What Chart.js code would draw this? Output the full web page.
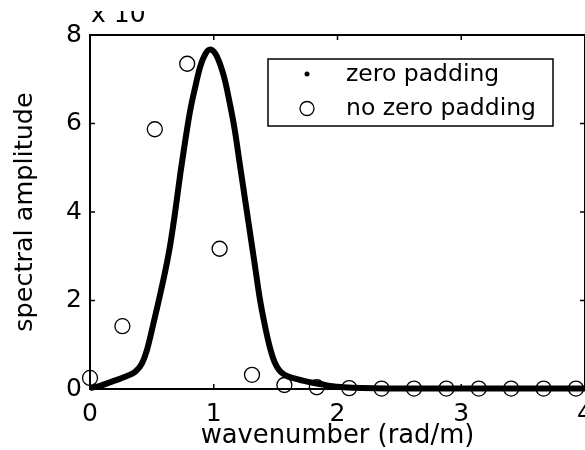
<!DOCTYPE html>
<html>
<head>
<meta charset="utf-8">
<script src="https://cdn.jsdelivr.net/npm/chart.js@4/dist/chart.umd.min.js"></script>
<style>
  html, body { margin: 0; padding: 0; background: #fff; }
  canvas { display: block; }
</style>
</head>
<body>
<canvas id="c" width="585" height="450"></canvas>
<script>
// ---- data ----
const zeroPadX = [0, 0.08, 0.16, 0.24, 0.32, 0.37, 0.42, 0.46, 0.50, 0.55, 0.61, 0.65, 0.69, 0.73, 0.77, 0.81, 0.85, 0.89, 0.93, 0.97, 1.01, 1.05, 1.09, 1.13, 1.17, 1.21, 1.25, 1.29, 1.33, 1.37, 1.41, 1.45, 1.49, 1.53, 1.58, 1.65, 1.72, 1.80, 1.88, 1.96, 2.05, 2.2, 2.4, 2.6, 2.8, 3.0, 3.2, 3.4, 3.6, 3.8, 4.0];
const zeroPadY = [0.02, 0.07, 0.15, 0.23, 0.32, 0.40, 0.58, 0.88, 1.33, 1.93, 2.69, 3.29, 4.04, 4.87, 5.62, 6.30, 6.82, 7.28, 7.56, 7.67, 7.59, 7.35, 6.98, 6.45, 5.85, 5.09, 4.34, 3.59, 2.84, 2.08, 1.48, 0.98, 0.62, 0.42, 0.31, 0.24, 0.19, 0.14, 0.10, 0.06, 0.04, 0.02, 0.01, 0.01, 0.01, 0.01, 0.01, 0.01, 0.01, 0.01, 0.01];
const noPadX = [0, 0.2618, 0.5236, 0.7854, 1.0472, 1.309, 1.5708, 1.8326, 2.0944, 2.3562, 2.618, 2.8798, 3.1416, 3.4034, 3.6652, 3.927];
const noPadY = [0.25, 1.42, 5.87, 7.35, 3.17, 0.32, 0.09, 0.04, 0.02, 0.01, 0.01, 0.01, 0.01, 0.01, 0.01, 0.01];
const seriesLabels = ['zero padding', 'no zero padding'];
const xTicks = [0, 1, 2, 3, 4];
const yTicks = [0, 2, 4, 6, 8];
const xTitle = 'wavenumber (rad/m)';
const yTitle = 'spectral amplitude';
const exponentLabel = 'x 10';

const FONT = 'DejaVu Sans';

const toPts = (xs, ys) => xs.map((x, i) => ({ x: x, y: ys[i] }));

const framePlugin = {
  id: 'frame',
  afterDraw(chart) {
    const { ctx, chartArea: a, scales } = chart;
    ctx.save();
    ctx.strokeStyle = '#000';
    // top and right spines
    ctx.lineWidth = 2;
    ctx.beginPath();
    ctx.moveTo(a.left, a.top); ctx.lineTo(a.right, a.top);
    ctx.moveTo(a.right, a.top); ctx.lineTo(a.right, a.bottom);
    ctx.stroke();
    // inward ticks on all four sides
    ctx.lineWidth = 1.5;
    ctx.beginPath();
    xTicks.forEach(v => {
      const p = scales.x.getPixelForValue(v);
      ctx.moveTo(p, a.bottom); ctx.lineTo(p, a.bottom - 5);
      ctx.moveTo(p, a.top); ctx.lineTo(p, a.top + 5);
    });
    yTicks.forEach(v => {
      const p = scales.y.getPixelForValue(v);
      ctx.moveTo(a.left, p); ctx.lineTo(a.left + 5, p);
      ctx.moveTo(a.right, p); ctx.lineTo(a.right - 5, p);
    });
    ctx.stroke();

    // exponent label, clipped at the top like the reference
    ctx.save();
    ctx.beginPath();
    ctx.rect(0, 11, chart.width, 40);
    ctx.clip();
    ctx.fillStyle = '#000';
    ctx.font = '25px "' + FONT + '"';
    ctx.textBaseline = 'alphabetic';
    ctx.textAlign = 'left';
    ctx.fillText(exponentLabel, 91, 22);
    ctx.restore();

    // legend box
    const bx = 268, by = 59, bw = 285, bh = 67;
    ctx.fillStyle = '#fff';
    ctx.fillRect(bx, by, bw, bh);
    ctx.lineWidth = 1.5;
    ctx.strokeRect(bx, by, bw, bh);
    ctx.fillStyle = '#000';
    ctx.font = '23.5px "' + FONT + '"';
    ctx.textBaseline = 'middle';
    ctx.textAlign = 'left';
    const ds = chart.data.datasets;
    ctx.beginPath();
    ctx.arc(307, 74, 2.5, 0, Math.PI * 2);
    ctx.fill();
    ctx.fillText(ds[0].label, 346, 75);
    ctx.lineWidth = 1.3;
    ctx.beginPath();
    ctx.arc(307, 108.5, 7, 0, Math.PI * 2);
    ctx.stroke();
    ctx.fillText(ds[1].label, 346, 109);
    ctx.restore();
  }
};

new Chart(document.getElementById('c'), {
  type: 'scatter',
  data: {
    datasets: [
      {
        label: seriesLabels[0],
        data: toPts(zeroPadX, zeroPadY),
        showLine: true,
        borderColor: '#000',
        backgroundColor: '#000',
        borderWidth: 6,
        pointRadius: 0,
        cubicInterpolationMode: 'monotone',
        clip: 8,
        order: 2
      },
      {
        label: seriesLabels[1],
        data: toPts(noPadX, noPadY),
        showLine: false,
        pointStyle: 'circle',
        pointRadius: 7.5,
        pointBorderWidth: 1.3,
        pointBorderColor: '#000',
        pointBackgroundColor: 'rgba(0,0,0,0)',
        clip: 12,
        order: 1
      }
    ]
  },
  options: {
    responsive: false,
    animation: false,
    devicePixelRatio: 1,
    layout: { autoPadding: false, padding: { left: 12.6, top: 35, right: -1.5, bottom: 0 } },
    plugins: {
      legend: { display: false },
      tooltip: { enabled: false }
    },
    scales: {
      x: {
        type: 'linear',
        min: 0, max: 4,
        afterFit(scale) { scale.paddingRight = -1.5; },
        afterBuildTicks(scale) { scale.ticks = xTicks.map(v => ({ value: v })); },
        ticks: {
          color: '#000',
          font: { family: FONT, size: 25, lineHeight: 1 },
          padding: 12.5,
          maxRotation: 0,
          autoSkip: false
        },
        grid: { display: false, drawTicks: false },
        border: { display: true, color: '#000', width: 2 },
        title: {
          display: true,
          text: xTitle,
          color: '#000',
          font: { family: FONT, size: 25.8, lineHeight: 1 },
          padding: { top: -15.8, bottom: 1 }
        }
      },
      y: {
        type: 'linear',
        min: 0, max: 8,
        afterBuildTicks(scale) { scale.ticks = yTicks.map(v => ({ value: v })); },
        ticks: {
          color: '#000',
          font: { family: FONT, size: 25, lineHeight: 1 },
          padding: 8,
          autoSkip: false
        },
        grid: { display: false, drawTicks: false },
        border: { display: true, color: '#000', width: 2 },
        title: {
          display: true,
          text: yTitle,
          color: '#000',
          font: { family: FONT, size: 25.5, lineHeight: 1 },
          padding: { top: 0, bottom: 20 }
        }
      }
    }
  },
  plugins: [framePlugin]
});
</script>
</body>
</html>
